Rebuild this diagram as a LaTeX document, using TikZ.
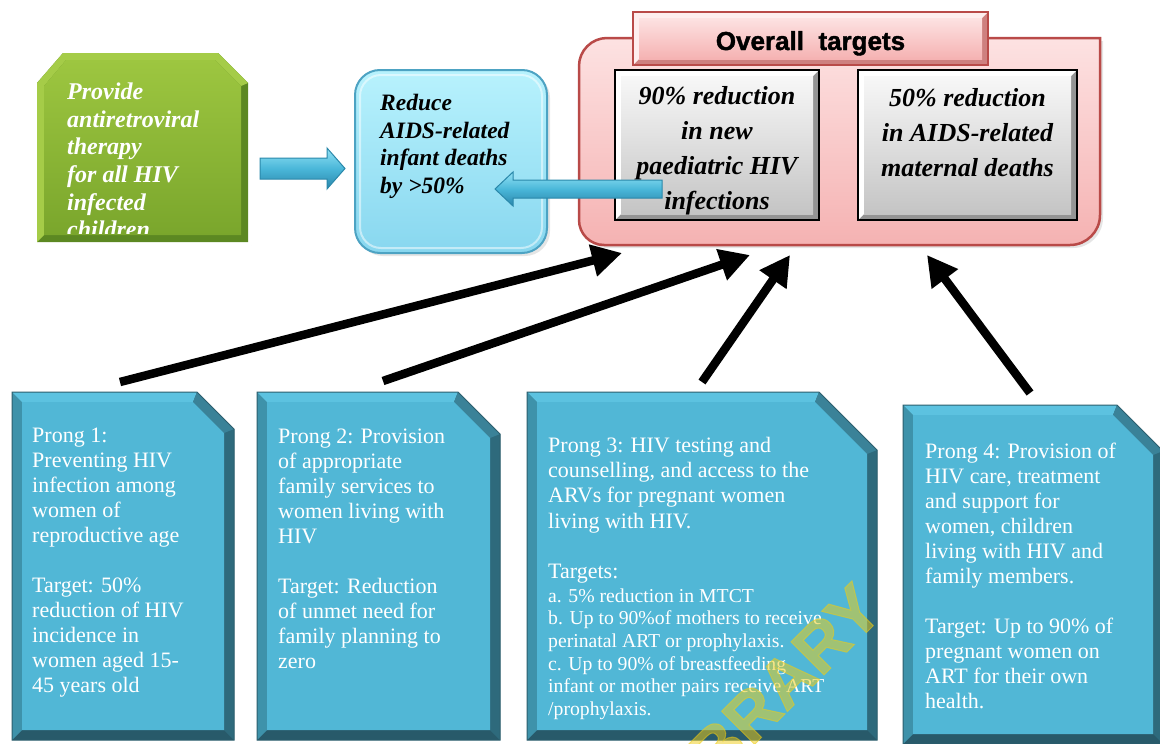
\documentclass[tikz,border=0pt]{standalone}
\usepackage{fontspec}
\setmainfont{Liberation Serif}
\newfontfamily\hdfont[BoldFeatures={FakeBold=1.5}]{Liberation Sans}
\usetikzlibrary{arrows.meta,shadows,calc}

\definecolor{prongface}{RGB}{81,183,214}
\definecolor{pronglight}{RGB}{92,194,224}
\definecolor{prongleft}{RGB}{62,146,170}
\definecolor{prongright}{RGB}{46,106,124}
\definecolor{prongbot}{RGB}{40,90,106}
\definecolor{prongsnip}{RGB}{58,130,152}
\definecolor{prongline}{RGB}{44,95,110}
\definecolor{gdark}{RGB}{92,136,34}
\definecolor{glight}{RGB}{165,204,72}
\definecolor{gtop}{RGB}{157,198,64}
\definecolor{gbot}{RGB}{122,166,44}
\definecolor{cyantop}{RGB}{184,242,253}
\definecolor{cyanbot}{RGB}{136,215,239}
\definecolor{cyanline}{RGB}{77,163,195}
\definecolor{pinktop}{RGB}{253,226,226}
\definecolor{pinkbot}{RGB}{245,178,178}
\definecolor{pinkline}{RGB}{185,74,72}
\definecolor{arrtop}{RGB}{147,226,245}
\definecolor{arrmid}{RGB}{74,183,217}
\definecolor{arrbot}{RGB}{42,134,171}
\definecolor{arrline}{RGB}{42,136,170}
\definecolor{wmyellow}{RGB}{240,205,20}

\tikzset{
  greentext/.style={font=\fontsize{24}{27.6}\selectfont\bfseries\itshape, text=white, align=left, inner sep=0pt, anchor=north west},
  bluetext/.style={font=\fontsize{23.5}{27.5}\selectfont\bfseries\itshape, text=black, align=left, inner sep=0pt, anchor=north west},
  graytext/.style={font=\fontsize{26}{35}\selectfont\bfseries\itshape, text=black, align=center, inner sep=0pt, anchor=north},
  prongtext/.style={font=\fontsize{22}{25}\selectfont, text=white, align=left, inner sep=0pt, anchor=north west},
  prongsmall/.style={font=\fontsize{19.7}{22.6}\selectfont, text=white, align=left, inner sep=0pt, anchor=north west},
  blackarrow/.style={line width=8.5pt, draw=black, -{Triangle[length=30pt,width=31pt]}},
  blockarrow/.style={top color=arrtop, bottom color=arrbot, middle color=arrmid, draw=arrline, line width=1pt},
  gb-dark/.style={fill=black!42},
  gb-light/.style={fill=white},
  gb-face/.style={top color=black!3, bottom color=black!23},
  gb-line/.style={draw=black, line width=2.5pt},
  pt-dark/.style={fill=pinkline!70},
  pt-light/.style={fill=pinktop!60!white},
  pt-face/.style={top color=pinktop, bottom color=pinkbot},
  pt-line/.style={draw=pinkline, line width=1.8pt},
}

% bevelled rectangle: x1 y1 x2 y2 style-prefix
\newcommand\bevelrect[5]{%
  \fill[#5-dark] (#1,#2) rectangle (#3,#4);
  \fill[#5-light] (#1,#2) -- (#3,#2) -- ({#3-6},{#2+6}) -- ({#1+6},{#2+6}) -- ({#1+6},{#4-6}) -- (#1,#4) -- cycle;
  \path[#5-face] ({#1+6},{#2+6}) rectangle ({#3-6},{#4-6});
  \draw[#5-line] (#1,#2) rectangle (#3,#4);
}

% prong box with snipped top-right corner: x1 y1 x2 y2 snip
\newcommand\prongbox[5]{%
  \fill[prongbot] (#1,#2) -- ({#3-#5},#2) -- (#3,{#2+#5}) -- (#3,#4) -- (#1,#4) -- cycle;
  \fill[prongright] ({#3-#5},#2) -- (#3,{#2+#5}) -- (#3,#4) -- ({#3-10},{#4-10}) -- ({#3-10},{#2+#5+4}) -- ({#3-#5-4},{#2+10}) -- cycle;
  \fill[prongleft] (#1,#2) -- ({#1+10},{#2+10}) -- ({#1+10},{#4-10}) -- (#1,#4) -- cycle;
  \fill[pronglight] (#1,#2) -- ({#3-#5},#2) -- ({#3-#5-4},{#2+10}) -- ({#1+10},{#2+10}) -- cycle;
  \fill[prongsnip] ({#3-#5},#2) -- (#3,{#2+#5}) -- ({#3-10},{#2+#5+4}) -- ({#3-#5-4},{#2+10}) -- cycle;
  \fill[prongface] ({#1+10},{#2+10}) -- ({#3-#5-4},{#2+10}) -- ({#3-10},{#2+#5+4}) -- ({#3-10},{#4-10}) -- ({#1+10},{#4-10}) -- cycle;
  \draw[prongline, line width=1pt] (#1,#2) -- ({#3-#5},#2) -- (#3,{#2+#5}) -- (#3,#4) -- (#1,#4) -- cycle;
}

% horizontal block arrow: tail, tip, half shaft, half head, signed head length, style
\newcommand\hblockarrow[6]{%
  \path[#6] let \p1=(#1), \p2=(#2) in
    ({\x1},{\y1-(#3)}) -- ({\x2+(#5)},{\y1-(#3)}) -- ({\x2+(#5)},{\y1-(#4)}) -- (\x2,\y2)
    -- ({\x2+(#5)},{\y1+(#4)}) -- ({\x2+(#5)},{\y1+(#3)}) -- ({\x1},{\y1+(#3)}) -- cycle;
}

\begin{document}
\begin{tikzpicture}[x=1pt,y=-1pt]
\useasboundingbox (0,0) rectangle (1160,744);
\fill[white] (0,0) rectangle (1160,744);

% ---------- green box ----------
\path[draw=white, fill=white, line width=10pt, line join=round,
      drop shadow={opacity=0.18, shadow xshift=3pt, shadow yshift=-3pt}]
  (37,83) -- (63,53) -- (218,53) -- (248,83) -- (248,242) -- (37,242) -- cycle;
\fill[gdark] (37,83) -- (63,53) -- (218,53) -- (248,83) -- (248,242) -- (37,242) -- cycle;
\fill[glight] (37,83) -- (63,53) -- (218,53) -- (248,83) -- (241,86) -- (215,60) -- (66,60) -- (44,86) -- (44,235) -- (37,242) -- cycle;
\path[top color=gtop, bottom color=gbot] (44,86) -- (66,60) -- (215,60) -- (241,86) -- (241,235) -- (44,235) -- cycle;
\begin{scope}
  \clip (37,53) rectangle (248,233.5);
  \node[greentext] (gtext) at (67,80.2) {\strut Provide\\antiretroviral\\therapy\\for all HIV\\infected\\children};
\end{scope}

% ---------- blue box ----------
\path[top color=cyantop, bottom color=cyanbot, draw=cyanline, line width=2pt, rounded corners=25pt,
      drop shadow={opacity=0.2, shadow xshift=3pt, shadow yshift=-3pt}]
  (355,70) rectangle (547,253);
\draw[white, opacity=0.5, line width=2pt, rounded corners=21pt] (360,75) rectangle (542,248);
\node[bluetext] (btext) at (380,91.5) {\strut Reduce\\AIDS-related\\infant deaths\\by >50\%};

% ---------- overall targets ----------
\path[top color=pinktop, bottom color=pinkbot, draw=pinkline, line width=2.5pt,
      drop shadow={opacity=0.2, shadow xshift=3pt, shadow yshift=-3pt}]
  (579,66) .. controls (579,50.6) and (591.6,38) .. (607,38) -- (1100,38) -- (1100,215)
  .. controls (1100,231.6) and (1086.6,245) .. (1070,245) -- (604,245)
  .. controls (590.2,245) and (579,233.8) .. (579,220) -- cycle;
\bevelrect{633}{12}{988}{65}{pt}
\node[font=\hdfont\bfseries\fontsize{26}{30}\selectfont, inner sep=0pt, anchor=base] (title) at (810.5,50) {Overall\ \ targets};

\bevelrect{615}{70}{819}{220}{gb}
\bevelrect{858}{70}{1077}{220}{gb}
\node[graytext] (t90) at (717,80) {\strut 90\% reduction\\in new\\paediatric HIV\\infections};
\node[graytext] (t50) at (967.5,81.5) {\strut 50\% reduction\\in AIDS-related\\maternal deaths};

% ---------- block arrows ----------
\coordinate (aAtail) at (260,168.5);
\coordinate (aAtip) at (345,168.5);
\hblockarrow{aAtail}{aAtip}{10.5pt}{20.5pt}{-18pt}{blockarrow}
\coordinate (aBtail) at (662,189);
\coordinate (aBtip) at (495,189);
\hblockarrow{aBtail}{aBtip}{9pt}{17pt}{18pt}{blockarrow}

% ---------- prong boxes ----------
\prongbox{12}{392}{234}{740}{37}
\prongbox{257}{392}{500}{740}{42}
\prongbox{527}{392}{877}{740}{58}
\prongbox{903}{405}{1163}{744}{46}

\node[prongtext] (p1) at (32,424.5) {\strut Prong 1:\\Preventing HIV\\infection among\\women of\\reproductive age\\[25pt]Target: 50\%\\reduction of HIV\\incidence in\\women aged 15-\\45 years old};
\node[prongtext] (p2) at (278,425.5) {\strut Prong 2: Provision\\of appropriate\\family services to\\women living with\\HIV\\[25pt]Target: Reduction\\of unmet need for\\family planning to\\zero};
\node[prongtext, font=\fontsize{22}{25.3}\selectfont] (p3) at (548,434.3) {\strut Prong 3: HIV testing and\\counselling, and access to the\\ARVs for pregnant women\\living with HIV.\\[25.3pt]Targets:};
\node[prongsmall] (p3b) at (548,586.2) {\strut a. 5\% reduction in MTCT\\b. Up to 90\%of mothers to receive\\perinatal ART or prophylaxis.\\c. Up to 90\% of breastfeeding\\infant or mother pairs receive ART\\/prophylaxis.};
\node[prongtext] (p4) at (925,440.5) {\strut Prong 4: Provision of\\HIV care, treatment\\and support for\\women, children\\living with HIV and\\family members.\\[25pt]Target: Up to 90\% of\\pregnant women on\\ART for their own\\health.};

% ---------- black arrows ----------
\coordinate (k1s) at (120,382);  \coordinate (k1e) at (622,253);
\coordinate (k2s) at (383,381);  \coordinate (k2e) at (750,255);
\coordinate (k3s) at (702,382);  \coordinate (k3e) at (790,255);
\coordinate (k4s) at (1030,393); \coordinate (k4e) at (927,255);
\draw[blackarrow] (k1s) -- (k1e);
\draw[blackarrow] (k2s) -- (k2e);
\draw[blackarrow] (k3s) -- (k3e);
\draw[blackarrow] (k4s) -- (k4e);

% ---------- watermark ----------
\node[font=\hdfont\bfseries\fontsize{68}{70}\selectfont, text=wmyellow, text opacity=0.5,
      rotate=45, anchor=base east, inner sep=0pt] (wm) at (886,613) {LIBRARY};
\end{tikzpicture}
\end{document}
